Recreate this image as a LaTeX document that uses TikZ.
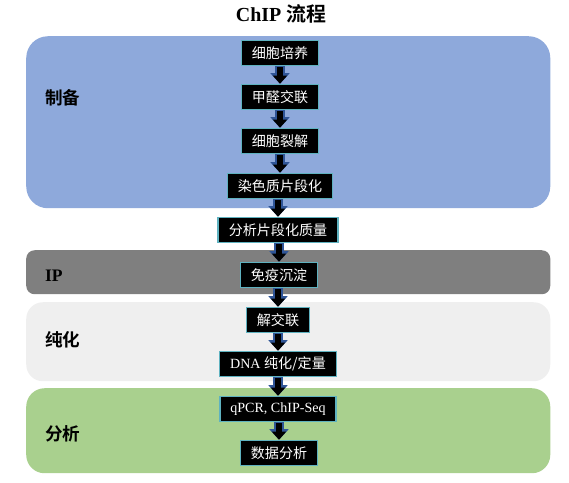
\documentclass[tikz,border=0pt]{standalone}
\usepackage{fontspec}
\setmainfont{Liberation Serif}
\newfontfamily\cjk{Noto Sans CJK SC}[BoldFont=* Bold]
\usetikzlibrary{arrows.meta}

\definecolor{prepblau}{RGB}{142,169,219}
\definecolor{ipgrau}{RGB}{127,127,127}
\definecolor{reinhell}{RGB}{239,239,239}
\definecolor{analgruen}{RGB}{169,208,142}
\definecolor{boxrand}{RGB}{95,178,192}
\definecolor{pfeilblau}{RGB}{47,85,151}

\tikzset{
  stepbox/.style={draw=boxrand, line width=1.3pt, fill=black, text=white,
    minimum height=0.75cm, inner xsep=9pt, inner ysep=2pt,
    font=\fontsize{12}{14}\selectfont},
  band/.style={anchor=north west, minimum width=15.72cm},
  bandlabel/.style={anchor=west, font=\fontsize{15}{17}\selectfont\bfseries},
  pfeilhinten/.style={draw=pfeilblau, line width=8pt,
    -{Triangle[length=9pt,width=16pt]}},
  pfeilvorne/.style={draw=black, line width=5pt,
    -{Triangle[length=7pt,width=12pt]}, shorten <=1pt}
}

\begin{document}
\begin{tikzpicture}[x=0.03cm, y=-0.03cm]
    \useasboundingbox (0,0) rectangle (569,482);

    % Titel
    \node[font=\fontsize{17}{20}\selectfont\bfseries] (titel) at (281,14) {ChIP {\cjk 流程}};

    % Hintergrund-Baender
    \node[band, fill=prepblau, minimum height=5.16cm, rounded corners=0.65cm] (prep) at (26,36) {};
    \node[band, fill=ipgrau, minimum height=1.32cm, rounded corners=0.25cm] (ipband) at (26,250) {};
    \node[band, fill=reinhell, minimum height=2.37cm, rounded corners=0.5cm] (rein) at (26,302) {};
    \node[band, fill=analgruen, minimum height=2.55cm, rounded corners=0.55cm] (anal) at (26,388) {};

    % Beschriftung der Baender
    \node[bandlabel] at (41,98) {\cjk 制备};
    \node[bandlabel] at (41,276) {IP};
    \node[bandlabel] at (41,340) {\cjk 纯化};
    \node[bandlabel] at (41,434) {\cjk 分析};

    % Arbeitsschritte
    \node[stepbox] (kultur) at (280,53) {\cjk 细胞培养};
    \node[stepbox] (vernetz) at (280,97) {\cjk 甲醛交联};
    \node[stepbox] (lyse) at (280,141) {\cjk 细胞裂解};
    \node[stepbox] (scheren) at (280,186) {\cjk 染色质片段化};
    \node[stepbox] (qualitaet) at (278,230) {\cjk 分析片段化质量};
    \node[stepbox] (ip) at (279,275) {\cjk 免疫沉淀};
    \node[stepbox] (entnetz) at (278,320) {\cjk 解交联};
    \node[stepbox] (dna) at (278,364) {DNA {\cjk 纯化/定量}};
    \node[stepbox] (seq) at (278,409) {qPCR, ChIP-Seq};
    \node[stepbox] (auswert) at (279,453) {\cjk 数据分析};

    % Pfeile
    \foreach \a/\b in {kultur/vernetz, vernetz/lyse, lyse/scheren, scheren/qualitaet,
                       qualitaet/ip, ip/entnetz, entnetz/dna, dna/seq, seq/auswert}{
        \draw[pfeilhinten] (\a.south -| \b.north) -- (\b.north);
        \draw[pfeilvorne] (\a.south -| \b.north) -- (\b.north);
    }
\end{tikzpicture}
\end{document}
